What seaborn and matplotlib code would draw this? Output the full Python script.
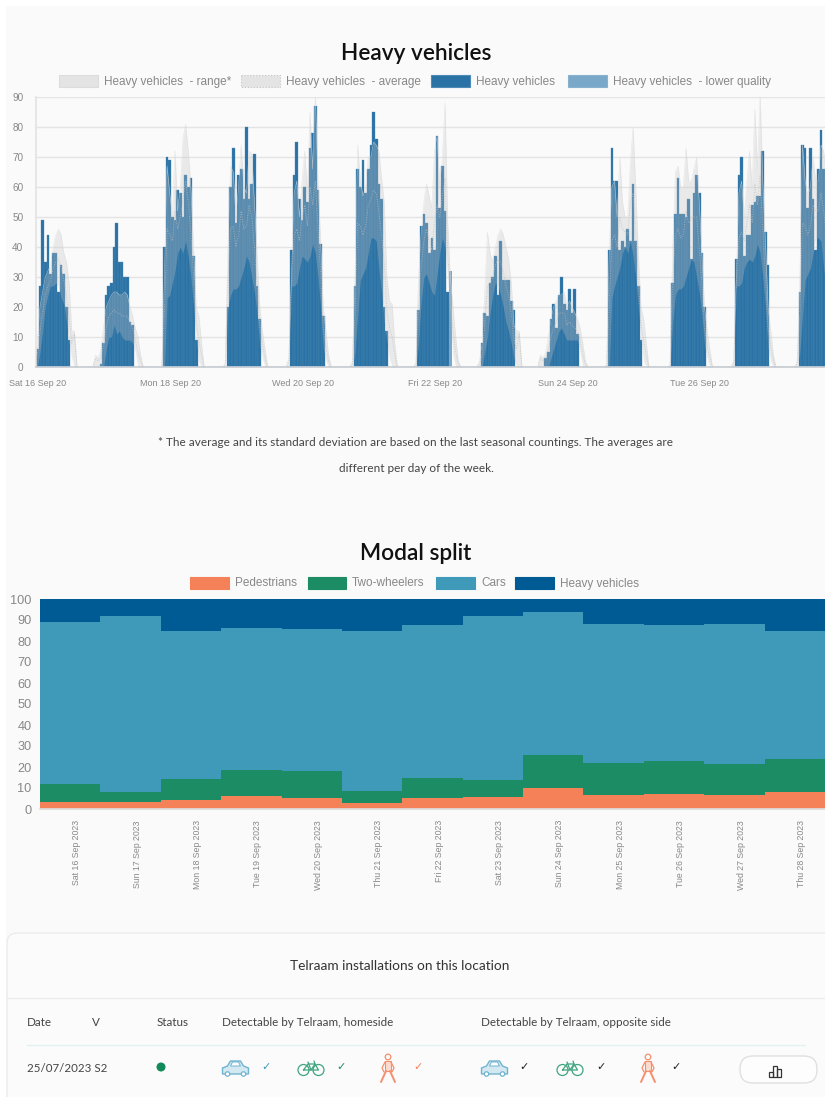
import numpy as np
import pandas as pd
import seaborn as sns
import matplotlib.pyplot as plt
from matplotlib.patches import Rectangle, FancyBboxPatch, Circle, Polygon

sns.set_theme(style="white")
plt.rcParams['font.family'] = ['Liberation Sans', 'DejaVu Sans']

# heavy vehicles, 13 hourly bars per day
heavy_bars = [
    [6, 27, 49, 35, 44, 31, 38, 38, 25, 34, 31, 20, 9],
    [1, 8, 24, 27, 28, 40, 48, 35, 35, 30, 30, 15, 14],
    [40, 70, 69, 50, 49, 59, 58, 50, 64, 60, 63, 37, 9],
    [20, 60, 73, 48, 64, 66, 56, 80, 56, 61, 71, 27, 16],
    [39, 64, 75, 56, 49, 60, 55, 73, 78, 87, 59, 41, 17],
    [27, 66, 60, 69, 58, 66, 74, 85, 76, 61, 56, 20, 12],
    [19, 47, 51, 48, 38, 43, 39, 77, 53, 67, 52, 25, 0],
    [8, 18, 17, 28, 30, 37, 24, 42, 29, 29, 29, 22, 19],
    [3, 5, 16, 21, 13, 24, 30, 21, 19, 26, 18, 26, 11],
    [39, 73, 62, 62, 39, 42, 40, 46, 42, 61, 42, 27, 9],
    [28, 51, 63, 51, 51, 50, 56, 36, 58, 64, 58, 38, 20],
    [36, 64, 70, 37, 44, 44, 54, 55, 57, 57, 72, 45, 34],
    [25, 74, 73, 53, 73, 56, 39, 66, 79, 66, 66],
]
# day, bar index, value
lower_quality = [(6, 12, 32)]

# range and average, per day from 2 hours before the first bar (19 values)
range_high = [
    [0, 0, 8, 20, 25, 30, 32, 34, 40, 44, 46, 44, 38, 35, 28, 12, 12, 0, 0],
    [4, 3, 6, 13, 20, 22, 24, 25, 25, 24, 24, 25, 24, 20, 17, 13, 10, 4, 0],
    [0, 0, 30, 67, 58, 50, 72, 52, 60, 76, 81, 72, 60, 40, 20, 17, 8, 0, 0],
    [0, 1, 40, 67, 65, 50, 60, 74, 60, 58, 72, 71, 55, 38, 20, 12, 6, 0, 0],
    [0, 3, 30, 58, 62, 50, 62, 72, 58, 85, 66, 91, 62, 42, 20, 12, 4, 0, 0],
    [0, 2, 30, 74, 62, 57, 60, 70, 70, 75, 74, 72, 63, 55, 30, 22, 21, 8, 0],
    [0, 1, 30, 45, 55, 61, 57, 53, 72, 77, 60, 70, 88, 48, 30, 20, 10, 2, 0],
    [0, 2, 8, 25, 45, 38, 35, 40, 44, 46, 44, 40, 36, 28, 14, 12, 12, 0, 0],
    [4, 3, 5, 10, 16, 20, 22, 24, 24, 25, 20, 22, 20, 18, 16, 13, 8, 2, 0],
    [0, 1, 38, 60, 62, 50, 70, 55, 50, 50, 68, 80, 60, 38, 20, 16, 8, 0, 0],
    [0, 1, 40, 65, 67, 60, 60, 73, 62, 62, 66, 70, 55, 38, 20, 12, 6, 0, 0],
    [0, 2, 30, 58, 62, 50, 62, 72, 60, 86, 66, 91, 62, 42, 20, 12, 4, 0, 0],
    [0, 2, 30, 74, 62, 57, 60, 70, 62, 62, 74, 72, 63, 55, 30, 22, 21, 8, 0],
]
range_low = [
    [0, 0, 0, 5, 12, 20, 24, 27, 27, 28, 27, 23, 21, 15, 8, 3, 0, 0, 0],
    [0, 0, 0, 0, 6, 10, 10, 14, 11, 12, 10, 9, 9, 9, 8, 5, 0, 0, 0],
    [0, 0, 0, 23, 24, 28, 32, 38, 40, 38, 42, 37, 30, 20, 9, 2, 0, 0, 0],
    [0, 0, 20, 24, 26, 26, 27, 30, 33, 37, 35, 30, 25, 18, 7, 3, 0, 0, 0],
    [0, 0, 27, 27, 28, 33, 37, 36, 35, 37, 41, 38, 30, 20, 6, 2, 0, 0, 0],
    [0, 0, 5, 17, 29, 31, 33, 38, 43, 43, 42, 33, 25, 15, 9, 3, 0, 0, 0],
    [0, 0, 8, 22, 30, 31, 28, 25, 24, 31, 38, 43, 40, 30, 15, 4, 0, 0, 0],
    [0, 0, 0, 5, 10, 18, 24, 28, 27, 24, 20, 15, 12, 8, 3, 0, 0, 0, 0],
    [0, 0, 0, 0, 3, 6, 9, 12, 13, 11, 9, 9, 9, 9, 9, 5, 0, 0, 0],
    [0, 0, 0, 23, 27, 30, 33, 38, 40, 38, 42, 37, 30, 20, 9, 2, 0, 0, 0],
    [0, 0, 15, 24, 26, 26, 27, 30, 33, 36, 35, 30, 25, 18, 7, 3, 0, 0, 0],
    [0, 0, 27, 27, 28, 33, 35, 36, 35, 37, 41, 38, 30, 20, 6, 2, 0, 0, 0],
    [0, 0, 5, 17, 29, 31, 33, 38, 43, 43, 42, 33, 25, 15, 9, 3, 0, 0, 0],
]
range_avg = [
    [0, 0, 4, 12, 18, 24, 27, 29, 33, 35, 36, 33, 29, 24, 17, 8, 11, 0, 0],
    [3, 2, 3, 7, 13, 17, 18, 19, 18, 18, 17, 17, 17, 15, 13, 9, 5, 2, 0],
    [0, 0, 18, 46, 44, 42, 52, 46, 50, 56, 62, 55, 45, 30, 15, 9, 4, 0, 0],
    [0, 1, 30, 46, 47, 40, 44, 52, 46, 47, 54, 50, 40, 28, 14, 8, 3, 0, 0],
    [0, 2, 28, 44, 46, 42, 50, 54, 47, 60, 54, 62, 46, 31, 13, 7, 2, 0, 0],
    [0, 1, 18, 48, 47, 44, 47, 54, 56, 59, 58, 52, 44, 35, 19, 13, 10, 4, 0],
    [0, 1, 20, 34, 42, 46, 42, 39, 48, 54, 50, 57, 63, 39, 22, 12, 5, 1, 0],
    [0, 1, 4, 15, 27, 28, 30, 34, 36, 35, 32, 27, 24, 18, 9, 6, 11, 0, 0],
    [3, 2, 3, 6, 10, 13, 15, 18, 18, 18, 14, 15, 14, 13, 12, 9, 4, 1, 0],
    [0, 0, 20, 42, 44, 40, 50, 46, 45, 44, 55, 58, 45, 29, 14, 9, 4, 0, 0],
    [0, 0, 28, 44, 46, 43, 44, 52, 48, 49, 50, 50, 40, 28, 13, 7, 3, 0, 0],
    [0, 1, 28, 43, 45, 42, 48, 54, 48, 61, 54, 64, 46, 31, 13, 7, 2, 0, 0],
    [0, 1, 18, 48, 47, 44, 47, 54, 52, 52, 58, 52, 44, 35, 19, 13, 10, 4, 0],
]
top_tick_hours = [0, 50, 100, 150, 200, 250]
top_tick_labels = ['Sat 16 Sep 20', 'Mon 18 Sep 20', 'Wed 20 Sep 20',
                   'Fri 22 Sep 20', 'Sun 24 Sep 20', 'Tue 26 Sep 20']

# modal split, percent per day
split_days = ['Sat 16 Sep 2023', 'Sun 17 Sep 2023', 'Mon 18 Sep 2023', 'Tue 19 Sep 2023',
              'Wed 20 Sep 2023', 'Thu 21 Sep 2023', 'Fri 22 Sep 2023', 'Sat 23 Sep 2023',
              'Sun 24 Sep 2023', 'Mon 25 Sep 2023', 'Tue 26 Sep 2023', 'Wed 27 Sep 2023',
              'Thu 28 Sep 2023']
pedestrians = [3.5, 3.3, 4.5, 6, 5.2, 3, 5.4, 5.8, 10, 6.8, 7, 6.5, 8]
two_wheelers = [8.5, 4.9, 10, 12.8, 13.1, 5.6, 9.6, 8.2, 15.5, 14.9, 16, 14.8, 16]
cars = [77.2, 83.5, 70.5, 67.2, 67.2, 76.4, 72.6, 77.8, 68.3, 66.3, 64.6, 66.9, 60.8]
heavy = [10.8, 8.3, 15, 14, 14.5, 15, 12.4, 8.2, 6.2, 12, 12.4, 11.8, 15.2]

BAR_BLUE = '#2a72a5'
LOW_BLUE = '#7aa8c8'
GREY = '#888888'
COL_PED = '#f58158'
COL_TWO = '#1c8c64'
COL_CAR = '#3f9aba'
COL_HEAVY = '#005a94'
W, H = 825, 1097


def px_axes(left, top, right, bottom):
    return fig.add_axes([left / W, 1 - bottom / H, (right - left) / W, (bottom - top) / H])


fig = plt.figure(figsize=(W / 100, H / 100), dpi=100, facecolor='white')
ov = fig.add_axes([0, 0, 1, 1], zorder=5)
ov.set_xlim(0, W)
ov.set_ylim(H, 0)
ov.axis('off')
bg = fig.add_axes([0, 0, 1, 1], zorder=-1)
bg.set_xlim(0, W)
bg.set_ylim(H, 0)
bg.axis('off')
bg.add_patch(Rectangle((6, 6), W, H, fc='#fafafa', ec='none'))

# ---- heavy vehicles chart
ax = px_axes(36, 97, 825, 367)
ax.patch.set_alpha(0)

bar_x, bar_y = [], []
for d, vals in enumerate(heavy_bars):
    for i, v in enumerate(vals):
        bar_x.append(24 * d + i + 0.5)
        bar_y.append(v)
# the theme puts white edges on patches, they eat the thin bars
sns.barplot(x=bar_x, y=bar_y, native_scale=True, orient='x', width=1, color=BAR_BLUE,
            saturation=1, errorbar=None, linewidth=0.25, edgecolor='#4d8ab5', ax=ax, zorder=2)
low_x = [24 * d + i + 0.5 for d, i, v in lower_quality]
low_y = [v for d, i, v in lower_quality]
sns.barplot(x=low_x, y=low_y, native_scale=True, orient='x', width=1, color=LOW_BLUE,
            saturation=1, errorbar=None, linewidth=0, ax=ax, zorder=2)

line_x, hi, lo, av = [], [], [], []
for d in range(13):
    line_x.extend([24 * d + i - 2 + 0.5 for i in range(24)])
    hi.extend(range_high[d] + [0] * 5)
    lo.extend(range_low[d] + [0] * 5)
    av.extend(range_avg[d] + [0] * 5)
line_df = pd.DataFrame({'hour': line_x, 'avg': av})
ax.fill_between(line_x, lo, hi, color='#c4c4c4', alpha=0.3, lw=0, zorder=3)
sns.lineplot(data=line_df, x='hour', y='avg', color='#bdbdbd', lw=0.7, ls=(0, (1, 1.5)), alpha=0.7,
             errorbar=None, sort=False, ax=ax, zorder=4)
ax.plot(line_x, hi, color='#dcdcdc', lw=0.4, alpha=0.7, zorder=3)

ax.set_xlim(0, 298)
ax.set_ylim(0, 90)
ax.set_xlabel('')
ax.set_ylabel('')
ax.set_yticks(range(0, 100, 10))
ax.yaxis.grid(True, color='#e4e4e4', lw=1)
ax.xaxis.grid(False)
ax.set_axisbelow(True)
ax.set_xticks(np.array(top_tick_hours) + 0.7, top_tick_labels)
ax.tick_params(axis='x', length=0, labelsize=6.5, labelcolor=GREY, pad=9)
ax.tick_params(axis='y', length=7, width=1, color='#e4e4e4', labelsize=7.2, labelcolor=GREY, pad=2)
for s in ['top', 'right']:
    ax.spines[s].set_visible(False)
ax.spines['left'].set_color('#e4e4e4')
ax.spines['bottom'].set_color('#c8ced4')
for lab in ax.get_xticklabels():
    lab.set_ha('center')

# ---- modal split chart
ax2 = px_axes(40, 599, 825, 809)
ax2.patch.set_alpha(0)
split_df = pd.DataFrame({
    'day': np.tile(np.arange(13) + 0.5, 4),
    'share': pedestrians + two_wheelers + cars + heavy,
    'mode': ['Pedestrians'] * 13 + ['Two-wheelers'] * 13 + ['Cars'] * 13 + ['Heavy vehicles'] * 13,
})
sns.histplot(data=split_df, x='day', weights='share', hue='mode', multiple='stack',
             hue_order=['Heavy vehicles', 'Cars', 'Two-wheelers', 'Pedestrians'],
             palette={'Pedestrians': COL_PED, 'Two-wheelers': COL_TWO, 'Cars': COL_CAR,
                      'Heavy vehicles': COL_HEAVY},
             bins=13, binrange=(0, 13), alpha=1, linewidth=0, legend=False, ax=ax2)
ax2.set_xlim(0, 13)
ax2.set_ylim(0, 100)
ax2.set_xlabel('')
ax2.set_ylabel('')
ax2.set_yticks(range(0, 110, 10))
ax2.set_xticks(range(14), [''] * 14)
ax2.set_xticks(np.arange(13) + 0.61, split_days, minor=True, rotation=90)
ax2.tick_params(axis='x', which='major', length=5, width=1, color='#dddddd')
ax2.tick_params(axis='x', which='minor', length=0, labelsize=6.3, labelcolor=GREY, pad=8)
ax2.tick_params(axis='y', length=4, width=1, color='#e4e4e4', labelsize=9.2, labelcolor=GREY, pad=2)
for s in ['top', 'right', 'left']:
    ax2.spines[s].set_visible(False)
ax2.spines['bottom'].set_color('#dddddd')

# ---- titles, legends, note
TITLE_FONT = ['Lato', 'DejaVu Sans']
ov.text(416, 53, 'Heavy vehicles', ha='center', va='center', fontsize=16.3, weight='semibold',
        color='#111111', family=TITLE_FONT)
ov.text(416, 554, 'Modal split', ha='center', va='center', fontsize=16.3, weight='semibold',
        color='#111111', family=TITLE_FONT)


def legend_item(x0, x1, yc, label, fc, ec, ls='-'):
    ov.add_patch(Rectangle((x0, yc - 6), x1 - x0, 12, fc=fc, ec=ec, lw=0.8, ls=ls))
    ov.text(x1 + 6, yc + 0.5, label, ha='left', va='center', fontsize=8.5, color=GREY)


legend_item(59, 98, 81, 'Heavy vehicles  - range*', '#e4e4e4', '#dcdcdc')
legend_item(241, 280, 81, 'Heavy vehicles  - average', '#e4e4e4', '#c4c4c4', ':')
legend_item(431, 470, 81, 'Heavy vehicles', BAR_BLUE, '#4d8ab5')
legend_item(568, 607, 81, 'Heavy vehicles  - lower quality', LOW_BLUE, '#8ab2cf')
legend_item(190, 229, 583, 'Pedestrians', COL_PED, COL_PED)
legend_item(308, 346, 583, 'Two-wheelers', COL_TWO, COL_TWO)
legend_item(436, 475, 583, 'Cars', COL_CAR, COL_CAR)
legend_item(515, 554, 583, 'Heavy vehicles', COL_HEAVY, COL_HEAVY)

ov.text(416, 443, '* The average and its standard deviation are based on the last seasonal countings. The averages are',
        ha='center', va='center', fontsize=8.45, color='#444444', family=TITLE_FONT)
ov.text(416, 468, 'different per day of the week.', ha='center', va='center', fontsize=8.45,
        color='#444444', family=TITLE_FONT)

# ---- installations card
ov.add_patch(FancyBboxPatch((7, 933), 830, 200, boxstyle='round,pad=0,rounding_size=10',
                            fc='#fbfbfb', ec='#ececec', lw=1, clip_on=True))
ov.plot([7, 825], [998, 998], color='#ececec', lw=1)
ov.plot([27, 805], [1045, 1045], color='#e2f2f1', lw=1)
ov.text(400, 966, 'Telraam installations on this location', ha='center', va='center',
        fontsize=9.8, color='#333333', family=TITLE_FONT)
for x, s in [(27, 'Date'), (92, 'V'), (157, 'Status'), (222, 'Detectable by Telraam, homeside'),
             (481, 'Detectable by Telraam, opposite side')]:
    ov.text(x, 1022, s, ha='left', va='center', fontsize=8.35, color='#444444', family=TITLE_FONT)
ov.text(27, 1068, '25/07/2023 S2', ha='left', va='center', fontsize=8.3, color='#444444',
        family=TITLE_FONT)
ov.add_patch(Circle((161, 1067), 4.5, fc='#118a5c', ec='none'))


def car_icon(xc, yc, col):
    body = [(xc - 13, yc + 6), (xc - 13, yc), (xc - 8, yc - 2), (xc - 5, yc - 7), (xc + 5, yc - 7),
            (xc + 8, yc - 2), (xc + 13, yc), (xc + 13, yc + 6)]
    ov.add_patch(Polygon(body, closed=True, fc='#d3e8f0', ec=col, lw=1))
    ov.add_patch(Polygon([(xc - 5, yc - 2), (xc - 3, yc - 6), (xc + 3, yc - 6), (xc + 5, yc - 2)],
                         closed=True, fc='white', ec=col, lw=0.7))
    for dx in (-8, 8):
        ov.add_patch(Circle((xc + dx, yc + 6), 2.2, fc='white', ec=col, lw=0.9))


def bike_icon(xc, yc, col):
    for dx in (-7.5, 7.5):
        ov.add_patch(Circle((xc + dx, yc + 2), 5.5, fc='none', ec=col, lw=0.9))
    ov.plot([xc - 7.5, xc - 3, xc + 4, xc + 7.5, xc, xc - 7.5],
            [yc + 2, yc - 4, yc - 4, yc + 2, yc + 2, yc + 2], color=col, lw=0.9)
    ov.plot([xc - 3, xc, xc + 4, xc + 3], [yc - 6, yc + 2, yc - 4, yc - 7], color=col, lw=0.9)


def walker_icon(xc, yc, col):
    ov.add_patch(Circle((xc, yc - 11), 2.8, fc='none', ec=col, lw=0.9))
    ov.add_patch(Polygon([(xc - 3, yc - 7), (xc + 3, yc - 7), (xc + 3, yc + 3), (xc - 3, yc + 3)],
                         closed=True, fc='#fbdccf', ec=col, lw=0.8))
    ov.plot([xc - 2, xc - 7], [yc + 3, yc + 14], color=col, lw=1.4)
    ov.plot([xc + 2, xc + 7], [yc + 3, yc + 14], color=col, lw=1.4)
    ov.plot([xc - 3, xc - 6, xc - 4], [yc - 6, yc, yc + 4], color=col, lw=0.9)
    ov.plot([xc + 3, xc + 6, xc + 4], [yc - 6, yc, yc + 4], color=col, lw=0.9)


ICON_CAR = '#70b4d0'
ICON_BIKE = '#3fa580'
ICON_WALK = '#f58f6c'
car_icon(235.5, 1068, ICON_CAR)
bike_icon(311, 1068, ICON_BIKE)
walker_icon(388, 1068, ICON_WALK)
car_icon(494.5, 1068, ICON_CAR)
bike_icon(570, 1068, ICON_BIKE)
walker_icon(648, 1068, ICON_WALK)
for x, col in [(266, '#3f9aba'), (341, COL_TWO), (418, COL_PED), (524, '#222222'), (601, '#222222'),
               (676, '#222222')]:
    ov.text(x, 1067, '\u2713', ha='center', va='center', fontsize=8, color=col, family='DejaVu Sans')
ov.add_patch(FancyBboxPatch((740, 1056), 77, 27, boxstyle='round,pad=0,rounding_size=13',
                            fc='#fdfdfd', ec='#e0e0e0', lw=1))
for x0, top in [(769, 1072), (773, 1066), (777, 1069)]:
    ov.add_patch(Rectangle((x0, top), 4, 1077 - top, fc='none', ec='#333333', lw=0.9))

plt.savefig('out.png', dpi=100, facecolor='white')
plt.close()
